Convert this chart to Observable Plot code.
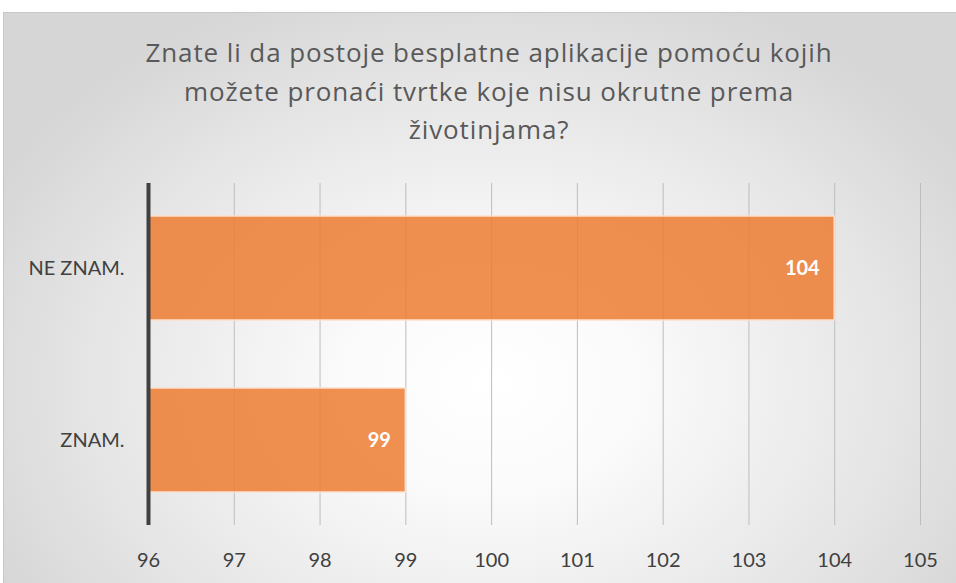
<!DOCTYPE html>
<html><head><meta charset="utf-8">
<script src="https://cdn.jsdelivr.net/npm/d3@7"></script>
<script src="https://cdn.jsdelivr.net/npm/@observablehq/plot@0.6"></script>
<style>
html,body{margin:0;padding:0}
body{background:#fff;width:956px;height:583px;overflow:hidden;position:relative;font-family:Lato,"Noto Sans",sans-serif}
#frame{position:absolute;left:3px;top:12px;width:975px;height:600px;border:1px solid #c8c8c8;background:radial-gradient(ellipse 560px 420px at 487px 370px,#ffffff 0%,#fbfbfb 25%,#e6e6e6 70%,#d6d6d6 100%)}
#title{position:absolute;left:3px;width:972px;top:33px;text-align:center;color:#595959;font-family:"Open Sans",sans-serif;font-size:26px;letter-spacing:0.9px;line-height:38.5px}
#chart{position:absolute;left:0;top:0}
</style>
</head><body>
<div id="frame"></div>
<div id="title">Znate li da postoje besplatne aplikacije pomoću kojih<br>možete pronaći tvrtke koje nisu okrutne prema<br>životinjama?</div>
<div id="chart"></div>
<script>
const categories = ["NE ZNAM.", "ZNAM."];
const values = [104, 99];
const xTicks = [96, 97, 98, 99, 100, 101, 102, 103, 104, 105];

const data = categories.map((c, i) => ({category: c, value: values[i], base: xTicks[0]}));

const chart = Plot.plot({
  width: 956,
  height: 583,
  marginLeft: 148,
  marginRight: 36,
  marginTop: 183,
  marginBottom: 58,
  style: {background: "transparent", fontFamily: "Lato, 'Noto Sans', sans-serif", fontSize: "20px", color: "#595959"},
  x: {domain: [xTicks[0], xTicks[xTicks.length - 1]]},
  y: {domain: categories, paddingInner: 0.395, paddingOuter: 0.19},
  marks: [
    Plot.ruleX(xTicks.slice(1), {stroke: "#bdbdbd", strokeWidth: 1}),
    Plot.barX(data, {x1: "base", x2: "value", y: "category", fill: "#ed7d31", fillOpacity: 0.85, stroke: "#fbe0cc", strokeWidth: 1.5}),
    Plot.ruleX([xTicks[0]], {stroke: "#404040", strokeWidth: 4}),
    Plot.text(data, {x: "value", y: "category", text: d => String(d.value), textAnchor: "end", dx: -15, fill: "white", fontWeight: "bold", fontSize: 20}),
    Plot.axisX({ticks: xTicks, tickSize: 0, tickPadding: 27, label: null, fill: "#404040"}),
    Plot.axisY({tickSize: 0, tickPadding: 24, label: null, fill: "#404040"})
  ]
});
document.getElementById("chart").appendChild(chart);
</script>
</body></html>
